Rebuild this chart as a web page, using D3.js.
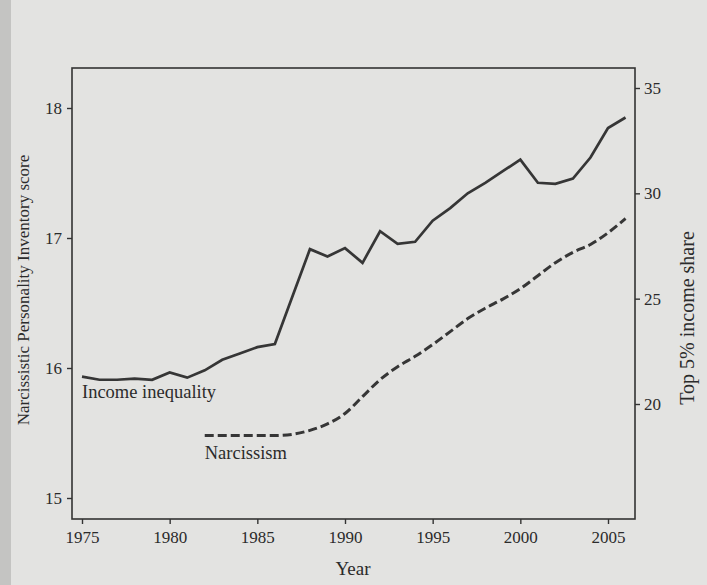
<!DOCTYPE html>
<html>
<head>
<meta charset="utf-8">
<script src="https://cdn.jsdelivr.net/npm/d3@7"></script>
<style>
  html, body { margin: 0; padding: 0; background: #e3e3e1; }
  svg { display: block; }
  text { font-family: "Liberation Serif", "DejaVu Serif", serif; fill: #2b2b2b; }
</style>
</head>
<body>
<svg id="chart" width="707" height="585"></svg>
<script>
// ---- data ----
const incomeYears = [1975,1976,1977,1978,1979,1980,1981,1982,1983,1984,1985,1986,1987,1988,1989,1990,
                     1991,1992,1993,1994,1995,1996,1997,1998,1999,2000,2001,2002,2003,2004,2005,2006];
const incomeShare = [21.3,21.15,21.15,21.2,21.15,21.5,21.25,21.6,22.1,22.4,22.7,22.85,25.1,27.35,27.0,27.4,
                     26.7,28.2,27.6,27.7,28.7,29.3,30.0,30.5,31.05,31.6,30.5,30.45,30.7,31.7,33.1,33.6];

const narcYears = [1982,1983,1984,1985,1986,1987,1988,1989,1990,1991,1992,1993,1994,
                   1995,1996,1997,1998,1999,2000,2001,2002,2003,2004,2005,2006];
const narcScore = [15.48,15.48,15.48,15.48,15.48,15.49,15.52,15.57,15.65,15.78,15.91,16.01,16.09,
                   16.18,16.28,16.38,16.46,16.53,16.61,16.71,16.81,16.89,16.95,17.04,17.15];

const xTicks = [1975,1980,1985,1990,1995,2000,2005];
const leftTicks = [15,16,17,18];
const rightTicks = [20,25,30,35];

// ---- layout ----
const svg = d3.select("#chart");
const W = 707, H = 585;
const frame = {left: 72, right: 635, top: 68, bottom: 519};

svg.append("rect").attr("width", W).attr("height", H).attr("fill", "#e3e3e1");
svg.append("rect").attr("width", 11).attr("height", H).attr("fill", "#c4c4c2");

const x = d3.scaleLinear().domain([1975, 2005]).range([82, 608]);
const yL = d3.scaleLinear().domain([15, 18]).range([498, 108]);
const yR = d3.scaleLinear().domain([20, 35]).range([404, 88]);

const ink = "#333";

// frame
svg.append("rect")
  .attr("x", frame.left).attr("y", frame.top)
  .attr("width", frame.right - frame.left).attr("height", frame.bottom - frame.top)
  .attr("fill", "none").attr("stroke", ink).attr("stroke-width", 1.6);

// axes
const fmt = d3.format("d");
const xAxis = svg.append("g").attr("transform", `translate(0,${frame.bottom})`)
  .call(d3.axisBottom(x).tickValues(xTicks).tickFormat(fmt).tickSize(5).tickPadding(7));
const lAxis = svg.append("g").attr("transform", `translate(${frame.left},0)`)
  .call(d3.axisLeft(yL).tickValues(leftTicks).tickFormat(fmt).tickSize(5).tickPadding(5));
const rAxis = svg.append("g").attr("transform", `translate(${frame.right},0)`)
  .call(d3.axisRight(yR).tickValues(rightTicks).tickFormat(fmt).tickSize(5).tickPadding(4));

[xAxis, lAxis, rAxis].forEach(g => {
  g.select(".domain").remove();
  g.selectAll(".tick line").attr("stroke", ink).attr("stroke-width", 1.4);
  g.selectAll(".tick text")
    .attr("font-family", "'Liberation Serif', 'DejaVu Serif', serif")
    .attr("font-size", 17).attr("fill", "#2b2b2b");
});

// lines
const incomeData = incomeYears.map((yr, i) => ({yr, v: incomeShare[i]}));
const narcData = narcYears.map((yr, i) => ({yr, v: narcScore[i]}));

svg.append("path").datum(incomeData)
  .attr("fill", "none").attr("stroke", "#363636").attr("stroke-width", 2.7)
  .attr("stroke-linejoin", "miter")
  .attr("d", d3.line().x(d => x(d.yr)).y(d => yR(d.v)));

svg.append("path").datum(narcData)
  .attr("fill", "none").attr("stroke", "#363636").attr("stroke-width", 3)
  .attr("stroke-dasharray", "9,4")
  .attr("d", d3.line().curve(d3.curveMonotoneX).x(d => x(d.yr)).y(d => yL(d.v)));

// series labels
svg.append("text").attr("x", x(1975)).attr("y", 398)
  .attr("font-size", 18.5).text("Income inequality");
svg.append("text").attr("x", x(1982)).attr("y", 459)
  .attr("font-size", 18.5).text("Narcissism");

// axis titles
svg.append("text").attr("x", 353).attr("y", 575)
  .attr("text-anchor", "middle").attr("font-size", 19).text("Year");
svg.append("text")
  .attr("transform", "translate(29,290) rotate(-90)")
  .attr("text-anchor", "middle").attr("font-size", 17)
  .text("Narcissistic Personality Inventory score");
svg.append("text")
  .attr("transform", "translate(694,318) rotate(-90)")
  .attr("text-anchor", "middle").attr("font-size", 20)
  .text("Top 5% income share");
</script>
</body>
</html>
